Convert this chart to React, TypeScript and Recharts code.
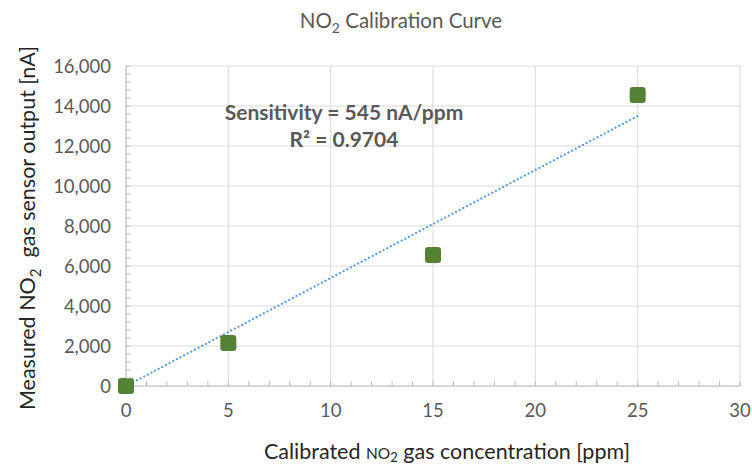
import React from "react";
import {
	ScatterChart,
	Scatter,
	XAxis,
	YAxis,
	CartesianGrid,
	Customized,
} from "recharts";

const concentration = [0, 5, 15, 25];
const sensorOutput = [0, 2150, 6550, 14550];
const trendX = [0, 25];
const trendY = [0, 13500];

const xMajorTicks = [0, 5, 10, 15, 20, 25, 30];
const xMinorTicks = Array.from({ length: 31 }, (_, i) => i);
const yMajorTicks = [0, 2000, 4000, 6000, 8000, 10000, 12000, 14000, 16000];
const yMinorTicks = Array.from({ length: 41 }, (_, i) => i * 400);

const points = concentration.map((x, i) => ({ x, y: sensorOutput[i] }));
const trend = trendX.map((x, i) => ({ x, y: trendY[i] }));

const FONT = "Lato, 'Noto Sans', sans-serif";
const GREY = "#595959";

const XTick = (props: any) => {
	const { x, y, payload } = props;
	const major = payload.value % 5 === 0;
	return (
		<g>
			{payload.value !== 0 && (
				<line x1={x} y1={y} x2={x} y2={y - 5} stroke="#bfbfbf" />
			)}
			{major && (
				<text
					x={x}
					y={y + 31}
					textAnchor="middle"
					fill={GREY}
					fontSize={18.5}
					fontFamily={FONT}
				>
					{payload.value}
				</text>
			)}
		</g>
	);
};

const YTick = (props: any) => {
	const { x, y, payload } = props;
	const major = payload.value % 2000 === 0;
	return (
		<g>
			{payload.value !== 0 && (
				<line x1={x} y1={y} x2={x + 5} y2={y} stroke="#bfbfbf" />
			)}
			{major && (
				<text
					x={x - 15}
					y={y + 6.5}
					textAnchor="end"
					fill={GREY}
					fontSize={18.5}
					fontFamily={FONT}
				>
					{payload.value.toLocaleString("en-US")}
				</text>
			)}
		</g>
	);
};

const Square = (props: any) => {
	const { cx, cy } = props;
	return (
		<rect
			x={cx - 8}
			y={cy - 8}
			width={16}
			height={16}
			rx={3}
			fill="#548235"
		/>
	);
};

const Texts = () => (
	<g fontFamily={FONT}>
		<text x={401} y={28} textAnchor="middle" fill={GREY} fontSize={20.5}>
			NO
			<tspan fontSize={14} dy={5}>2</tspan>
			<tspan dy={-5}> Calibration Curve</tspan>
		</text>
		<text
			x={344}
			y={120}
			textAnchor="middle"
			fill={GREY}
			fontSize={21}
			fontWeight="bold"
		>
			Sensitivity = 545 nA/ppm
		</text>
		<text
			x={344}
			y={147}
			textAnchor="middle"
			fill={GREY}
			fontSize={21}
			fontWeight="bold"
		>
			R² = 0.9704
		</text>
		<text
			transform="translate(35,228) rotate(-90)"
			textAnchor="middle"
			fill="#262626"
			fontSize={21.5}
		>
			Measured NO
			<tspan fontSize={15} dy={6}>2</tspan>
			<tspan dy={-6}>{"\u00a0 gas sensor output [nA]"}</tspan>
		</text>
		<text
			x={447}
			y={459}
			textAnchor="middle"
			fill="#262626"
			fontSize={21.5}
		>
			Calibrated <tspan fontSize={15.5}>NO</tspan>
			<tspan fontSize={13} dy={3}>2</tspan>
			<tspan dy={-3}> gas concentration [ppm]</tspan>
		</text>
	</g>
);

export default function App() {
	return (
		<div style={{ position: "absolute", left: 0, top: 0, background: "#fff" }}>
			<ScatterChart
				width={752}
				height={466}
				margin={{ top: 66, right: 12, bottom: 0, left: 60 }}
			>
				<CartesianGrid
					stroke="#d9d9d9"
					horizontalValues={yMajorTicks}
					verticalValues={xMajorTicks}
				/>
				<XAxis
					type="number"
					dataKey="x"
					domain={[0, 30]}
					ticks={xMinorTicks}
					interval={0}
					tick={<XTick />}
					tickLine={false}
					tickSize={0}
					tickMargin={0}
					height={80}
					axisLine={{ stroke: "#bfbfbf" }}
				/>
				<YAxis
					type="number"
					dataKey="y"
					domain={[0, 16000]}
					ticks={yMinorTicks}
					interval={0}
					tick={<YTick />}
					tickLine={false}
					tickSize={0}
					tickMargin={0}
					width={66}
					axisLine={{ stroke: "#bfbfbf" }}
				/>
				<Scatter
					data={trend}
					line={{
						stroke: "#5b9bd5",
						strokeWidth: 2.2,
						strokeDasharray: "0.1 4",
						strokeLinecap: "round",
					}}
					shape={() => null}
					isAnimationActive={false}
				/>
				<Scatter
					data={points}
					shape={<Square />}
					isAnimationActive={false}
				/>
				<Customized component={Texts} />
			</ScatterChart>
		</div>
	);
}
